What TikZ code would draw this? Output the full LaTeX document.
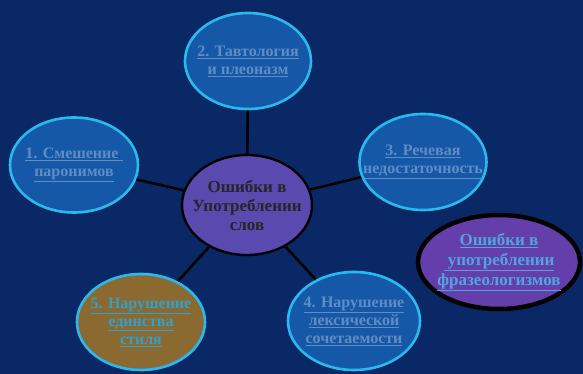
\documentclass[tikz,border=0pt]{standalone}
\usepackage{fontspec}
\setmainfont{Liberation Serif}
\usetikzlibrary{shapes.geometric}
\definecolor{bg}{RGB}{10,40,102}
\definecolor{ofill}{RGB}{22,88,168}
\definecolor{oborder}{RGB}{40,186,238}
\definecolor{otext}{RGB}{96,140,196}
\definecolor{cfill}{RGB}{90,74,176}
\definecolor{pfill}{RGB}{100,62,170}
\definecolor{ptext}{RGB}{80,165,225}
\definecolor{bfill}{RGB}{138,106,48}
\definecolor{btext}{RGB}{50,160,205}
\begin{document}
\begin{tikzpicture}[x=1pt,y=-1pt,
  outer/.style={ellipse, draw=oborder, line width=2.6pt, fill=ofill, inner sep=0pt},
  otxt/.style={inner sep=0pt, text=otext, align=center, font=\fontsize{16}{18}\selectfont\bfseries},
  conn/.style={line width=2.6pt, draw=black}
]
\fill[bg] (0,0) rectangle (583,374);
\useasboundingbox (0,0) rectangle (583,374);
% center
\node[ellipse, draw=black, line width=2.4pt, fill=cfill, minimum width=130pt, minimum height=100pt, inner sep=0pt] (c) at (247,205) {};
\node[inner sep=0pt, align=center, font=\fontsize{17}{19}\selectfont\bfseries, text=black!85] (ct) at (c.center)
  {Ошибки в\\Употреблении\\слов};
% outer ellipses
\node[outer, minimum width=126pt, minimum height=96pt] (n2) at (248,61) {};
\node[otxt] (t2) at (n2.center) {\underline{2. Тавтология}\\\underline{и плеоназм}};
\node[outer, minimum width=128pt, minimum height=95pt] (n1) at (74,165) {};
\node[otxt] (t1) at (n1.center) {\underline{1. Смешение\ }\\\underline{паронимов}};
\node[outer, minimum width=127pt, minimum height=96pt] (n3) at (423,162) {};
\node[otxt] (t3) at (n3.center) {\underline{3. Речевая}\\\underline{недостаточность}};
\node[outer, minimum width=132pt, minimum height=98pt] (n4) at (354,321) {};
\node[otxt] (t4) at (n4.center) {\underline{4. Нарушение}\\\underline{лексической}\\\underline{сочетаемости}};
\node[outer, fill=bfill, minimum width=128pt, minimum height=96pt] (n5) at (141,322) {};
\node[otxt, text=btext] (t5) at (n5.center) {\underline{5. Нарушение}\\\underline{единства}\\\underline{стиля}};
\node[ellipse, draw=black, line width=4.5pt, fill=pfill, minimum width=162pt, minimum height=94pt, inner sep=0pt] (p) at (499,262) {};
\node[inner sep=0pt, align=center, text=ptext, font=\fontsize{17}{20}\selectfont\bfseries] (pt) at (p.center)
  {\underline{Ошибки в}\\\underline{\ употреблении}\\\underline{фразеологизмов}};
% connectors
\draw[conn] (n2) -- (c);
\draw[conn] (n1) -- (c);
\draw[conn] (n3) -- (c);
\draw[conn] (n4) -- (c);
\draw[conn] (n5) -- (c);
\end{tikzpicture}
\end{document}
